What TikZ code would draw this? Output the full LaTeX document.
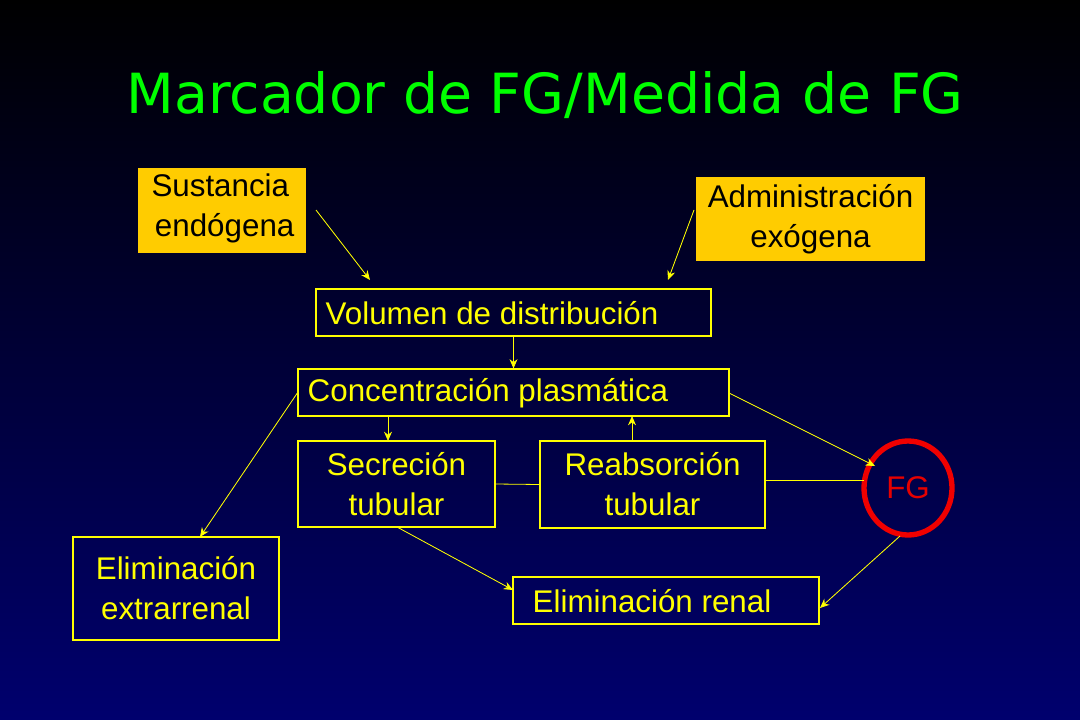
\documentclass[tikz,border=0pt]{standalone}
\usetikzlibrary{shapes.geometric,arrows.meta}
\usepackage{fontspec}
\setmainfont{Liberation Sans}
\newfontfamily\titlefont{DejaVu Sans}
\definecolor{gold}{RGB}{255,204,0}
\definecolor{ytext}{RGB}{255,255,0}
\begin{document}
\begin{tikzpicture}[x=0.75pt,y=-0.75pt,
  yl/.style={draw=ytext, line width=0.6pt},
  ar/.style={yl,-{Stealth[length=7pt,width=6pt]},fill=ytext},
  fnt/.style={font=\fontsize{23.5}{28}\selectfont},
  bx/.style={draw=ytext, line width=0.8pt, text=ytext, fnt, align=center, inner sep=0pt},
  fb/.style={fill=gold, text=black, fnt, align=center, inner sep=0pt}]
\shade[top color=black, bottom color={rgb,255:red,0;green,0;blue,110}] (0,0) rectangle (1080,720);
\useasboundingbox (0,0) rectangle (1080,720);
\node[text={rgb,255:red,0;green,255;blue,0}, font=\titlefont\fontsize{41.5}{50}\selectfont] (t) at (545,95) {Marcador de FG/Medida de FG};
\node[fb, minimum width=126pt, minimum height=63.75pt] (se) at (222,210.5) {};
\node[fb, anchor=north west] at (146,174) {Sustancia\\[2pt]\ endógena};
\node[fb, minimum width=171.75pt, minimum height=63pt] (ad) at (810.5,219) {Administración\\[2pt]exógena};
\node[bx, minimum width=296.25pt, minimum height=35.25pt] (vd) at (513.5,312.5) {};
\node[text=ytext, fnt, anchor=west] at (321,313) {Volumen de distribución};
\node[bx, minimum width=323.25pt, minimum height=35.25pt] (cp) at (513.5,392.5) {};
\node[text=ytext, fnt, anchor=west] at (303,393) {Concentración plasmática};
\node[bx, minimum width=147.75pt, minimum height=64.5pt] (st) at (396.5,484) {Secreción\\[2pt]tubular};
\node[bx, minimum width=168.75pt, minimum height=65.25pt] (rt) at (652.5,484.5) {Reabsorción\\[2pt]tubular};
\node[draw={rgb,255:red,240;green,0;blue,0}, line width=4pt, ellipse, minimum width=66pt, minimum height=70.5pt, inner sep=0pt, text={rgb,255:red,230;green,0;blue,0}, fnt] (fg) at (908,488) {FG};
\node[bx, minimum width=154.5pt, minimum height=77.25pt] (ee) at (176,588.5) {Eliminación\\[2pt]extrarrenal};
\node[bx, minimum width=229.5pt, minimum height=35.25pt] (er) at (666,600.5) {};
\node[text=ytext, fnt, anchor=west] at (528,601) {Eliminación renal};
\coordinate (a1) at (316,210); \coordinate (a2) at (694,210);
\draw[ar] (a1) -- (370,280);
\draw[ar] (a2) -- (668,280);
\draw[ar] (vd.south) -- (cp.north);
\draw[ar] (298,392) -- (200,537);
\draw[ar] (388,416) -- (388,441);
\draw[ar] (632,441) -- (632,416);
\draw[ar] (729,393) -- (875,466);
\draw[ar] (397,527) -- (513,590);
\draw[ar] (900,536) -- (820,608);
\draw[yl] (st.east) -- (rt.west);
\draw[yl] (765,480) -- (864,480);
\end{tikzpicture}
\end{document}
